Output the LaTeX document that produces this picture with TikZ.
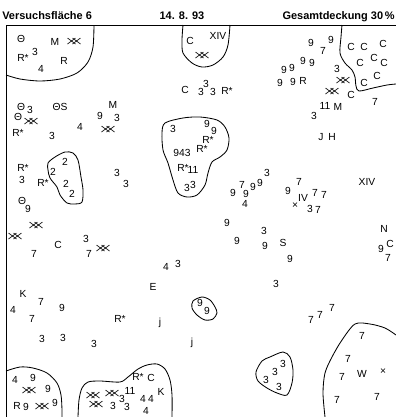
\documentclass[tikz,border=0pt]{standalone}
\usepackage{fontspec}
\setmainfont{Liberation Sans}
\usepackage{tikz}
\usetikzlibrary{positioning}

\tikzset{
  sym/.style={font=\fontsize{7.3}{8}\selectfont, inner sep=0pt},
  kopf/.style={font=\bfseries\fontsize{7.8}{9}\selectfont, inner sep=0pt},
  rand/.style={line width=0.6pt},
  dblx/.pic={\draw[line width=0.45pt] (-6.5,-3)--(1.5,3) (-6.5,3)--(1.5,-3) (-1.5,-3)--(6.5,3) (-1.5,3)--(6.5,-3);}
}

\begin{document}
\begin{tikzpicture}[x=0.025cm, y=-0.025cm]
  \useasboundingbox (0,0) rectangle (396,417);

  % header and frame
  \node[kopf, anchor=base west] (titel) at (2,19) {Versuchsfläche 6};
  \node[kopf, anchor=base] (datum) at (182,19) {14. 8. 93};
  \node[kopf, anchor=base east] (deckung) at (395,19) {Gesamtdeckung 30\,\%};
  \coordinate (ol) at (6,25);
  \coordinate (or) at (396,25);
  \coordinate (ul) at (6,417);
  \draw[rand] (ul) -- (ol) -- (or);

  % patches
  \draw[rand] plot[smooth] coordinates {(6,75) (20,79) (40,81) (60,79) (77,73) (88,62) (93,47) (94,25)};
  \draw[rand] plot[smooth] coordinates {(183,25) (182,40) (183,53) (192,63) (202,67) (213,65) (223,57) (228,45) (230,25)};
  \draw[rand] plot[smooth] coordinates {(342,25) (341,37) (340,53) (345,63) (352,70) (355,77) (356,86) (359,91) (373,88) (387,85) (396,84)};
  \draw[rand] plot[smooth cycle] coordinates {(165,123) (183,118) (200,117) (217,120) (225,127) (229,138) (227,150) (220,157) (212,162) (208,173) (205,185) (197,195) (187,197) (178,193) (173,180) (168,163) (163,150) (162,133)};
  \draw[rand] plot[smooth cycle] coordinates {(48,163) (55,157) (65,152) (73,153) (78,160) (81,177) (83,190) (82,202) (75,204) (67,203) (60,195) (57,187) (50,178) (48,170)};
  \draw[rand] plot[smooth cycle] coordinates {(193,301) (202,297) (210,300) (215,307) (217,313) (213,319) (205,320) (197,315) (192,308)};
  \draw[rand] plot[smooth cycle] coordinates {(256,372) (262,361) (270,357) (283,352) (290,357) (293,370) (292,383) (287,395) (277,393) (267,388) (258,381)};
  \draw[rand] plot[smooth] coordinates {(6,371) (20,367) (33,368) (47,373) (57,383) (61,395) (62,410) (62,417)};
  \draw[rand] plot[smooth] coordinates {(78,417) (79,400) (82,388) (88,382) (100,381) (120,382) (128,377) (138,369) (147,365) (157,364) (165,369) (170,380) (172,395) (172,417)};
  \draw[rand] plot[smooth] coordinates {(325,417) (323,393) (325,373) (332,357) (342,340) (355,324) (370,324) (385,328) (396,335)};

  % species symbols
  \foreach \px/\py/\t [count=\i] in {
    21/39/Θ, 55/42/M, 23/58/R*, 35/52/3, 64/61/R, 41/69/4,
    190/41/C, 218/36/XIV,
    185/90/C, 201/92/3, 206/84/3, 213/92/3, 227/91/R*,
    311/43/9, 323/51/7, 331/40/9, 284/70/9, 292/68/9, 303/61/9, 312/63/9,
    280/83/9, 293/82/9, 303/81/R, 337/69/3, 351/95/C, 325/106/11, 338/107/M,
    314/116/3, 375/102/7, 321/137/J, 332/137/H,
    351/47/C, 364/47/C, 383/44/C, 360/63/C, 374/58/C, 384/63/C, 377/76/C, 364/83/C,
    21/107/Θ, 30/110/3, 60/107/ΘS, 113/105/M, 100/116/9, 117/118/3, 18/117/Θ,
    80/127/4, 18/133/R*, 52/136/3,
    173/129/3, 207/124/9, 214/131/9, 208/140/R*, 202/149/R*, 182/153/943,
    183/168/R*, 193/170/11, 187/188/3, 193/185/3,
    233/193/9, 242/185/7, 246/194/9, 253/187/9, 260/183/9, 267/173/3, 245/204/4,
    299/182/7, 288/191/9, 303/198/IV, 315/193/7, 324/195/7, 295/206/×, 310/209/3, 318/210/7,
    367/182/XIV, 384/229/N, 381/249/9, 390/244/C, 388/258/7,
    227/223/9, 264/231/3, 237/241/9, 265/246/9, 283/243/S, 290/259/9, 276/284/3,
    65/162/2, 53/172/2, 66/184/2, 72/194/2, 23/168/R*, 22/180/3, 43/183/R*,
    117/173/3, 126/184/3, 22/201/Θ, 28/209/9, 58/245/C, 86/239/3, 89/254/7, 34/254/7,
    166/267/4, 178/264/3, 153/287/E,
    23/294/K, 41/302/7, 62/308/9, 13/310/4, 32/319/7, 42/339/3, 63/338/3, 94/344/3,
    120/319/R*, 160/323/j, 192/343/j, 200/303/9, 207/311/9,
    15/380/4, 33/378/9, 48/389/9, 17/406/R, 26/407/9, 55/403/9,
    122/399/3, 130/391/11, 113/406/3, 127/407/3, 138/377/R*, 151/378/C, 161/392/K,
    143/399/4, 151/399/4, 146/411/4,
    283/364/3, 275/372/3, 266/380/3, 279/387/3,
    311/320/7, 320/315/7, 332/308/7,
    362/336/7, 348/359/7, 342/377/7, 362/374/W, 383/372/×, 337/400/7, 377/397/7}
    \node[sym] (s\i) at (\px,\py) {\t};

  % double crosses
  \foreach \px/\py in {74/41, 202/55, 343/80, 332/91, 31/121, 108/129, 36/225, 15/236,
    103/248, 29/390, 42/406, 93/395, 112/393, 96/404}
    \pic at (\px,\py) {dblx};
\end{tikzpicture}
\end{document}
